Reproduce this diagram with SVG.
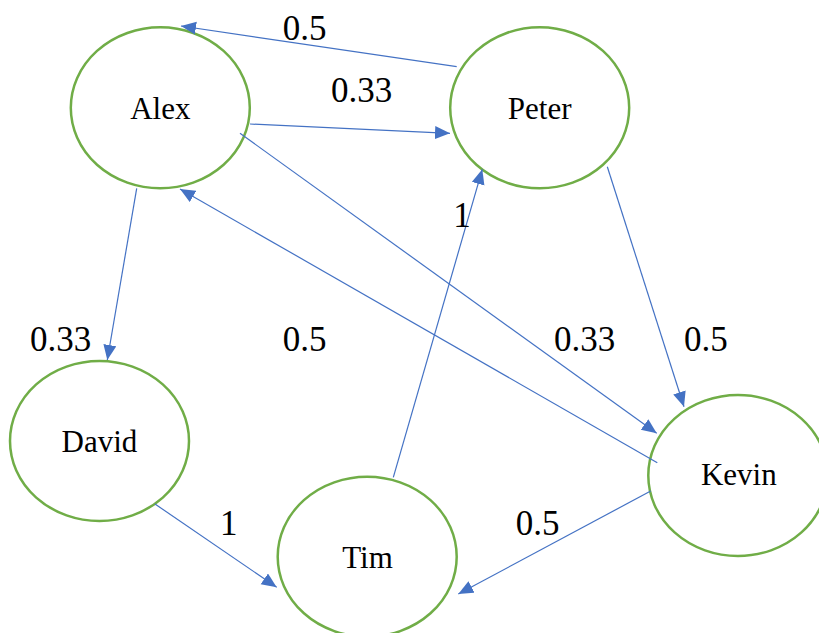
<svg xmlns="http://www.w3.org/2000/svg" width="819" height="633" viewBox="0 0 819 633">
<style>
.node ellipse{fill:#fff;stroke:#70AD47;stroke-width:2.5}
.node text{font-size:31px;fill:#000;text-anchor:middle}
.edge{stroke:#4472C4;stroke-width:1.2;fill:none;marker-end:url(#arr)}
.lbl{font-size:35px;fill:#000}
</style>
<defs>
<marker id="arr" markerUnits="userSpaceOnUse" markerWidth="16" markerHeight="14" refX="15" refY="6.5" orient="auto">
<path d="M0,0 L15,6.5 L0,13 z" fill="#4472C4"/>
</marker>
</defs>
<rect width="819" height="633" fill="#fff"/>
<g id="nodes" font-family="'Liberation Serif', 'Times New Roman', 'DejaVu Serif', serif">
<g id="alex" class="node"><ellipse cx="160.3" cy="107.8" rx="89.5" ry="80.5"/><text x="160.3" y="119">Alex</text></g>
<g id="peter" class="node"><ellipse cx="539.7" cy="107.8" rx="89.5" ry="80.5"/><text x="539.7" y="119">Peter</text></g>
<g id="david" class="node"><ellipse cx="99.5" cy="441" rx="89.5" ry="80"/><text x="99.5" y="452">David</text></g>
<g id="tim" class="node"><ellipse cx="367.2" cy="556.7" rx="89.5" ry="80"/><text x="367.5" y="567.5">Tim</text></g>
<g id="kevin" class="node"><ellipse cx="738" cy="475.5" rx="89.7" ry="80.5"/><text x="738.8" y="485">Kevin</text></g>
</g>
<g id="connectors">
<line class="edge" x1="456.7" y1="66.7" x2="181" y2="26"/>
<line class="edge" x1="250" y1="124" x2="450" y2="133.3"/>
<line class="edge" x1="240" y1="133.3" x2="656.7" y2="433.3"/>
<line class="edge" x1="657.3" y1="462.7" x2="180" y2="189"/>
<line class="edge" x1="136.7" y1="188.3" x2="107.3" y2="360"/>
<line class="edge" x1="607.3" y1="166.7" x2="684" y2="406.7"/>
<line class="edge" x1="393.3" y1="477.3" x2="482.3" y2="169.3"/>
<line class="edge" x1="155" y1="504" x2="276.7" y2="587.3"/>
<line class="edge" x1="650.7" y1="491" x2="458.3" y2="594"/>
</g>
<g id="labels" font-family="'Liberation Serif', 'Times New Roman', 'DejaVu Serif', serif">
<text class="lbl" x="282.7" y="40">0.5</text>
<text class="lbl" x="331" y="101.7">0.33</text>
<text class="lbl" x="453.3" y="226.7">1</text>
<text class="lbl" x="30" y="350.7">0.33</text>
<text class="lbl" x="282.7" y="350.7">0.5</text>
<text class="lbl" x="554" y="350.7">0.33</text>
<text class="lbl" x="684" y="350.7">0.5</text>
<text class="lbl" x="220" y="535">1</text>
<text class="lbl" x="515.7" y="535">0.5</text>
</g>
</svg>
